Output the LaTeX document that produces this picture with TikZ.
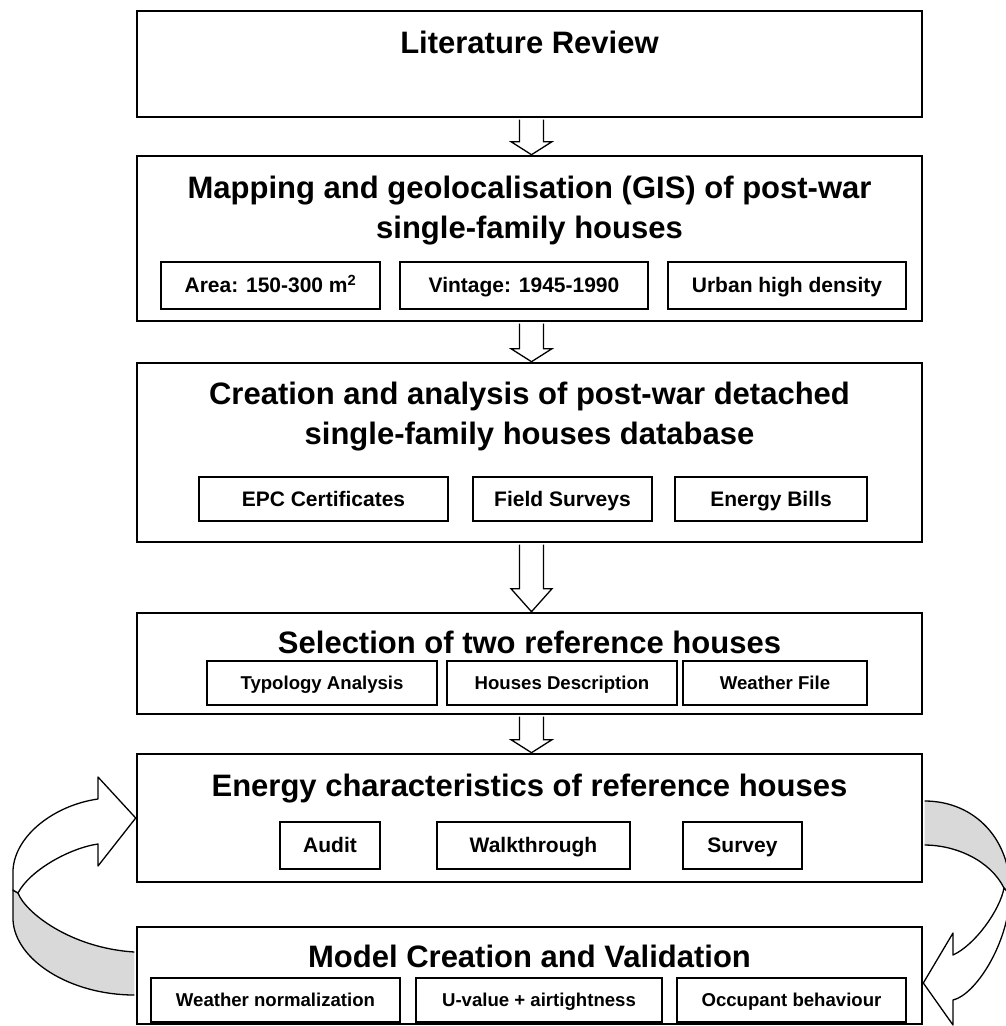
\documentclass[tikz,border=0pt]{standalone}
\usepackage{fontspec}
\setmainfont{Liberation Sans}
\usepackage{tikz}
\usetikzlibrary{positioning,calc}
\tikzstyle{stage} = [rectangle, draw, line width=2.6pt, minimum width=785pt, inner sep=0pt]
\tikzstyle{infobox} = [rectangle, draw, line width=1.8pt, text centered, inner sep=0pt, text height=14.4pt, text depth=0pt, font=\bfseries\fontsize{21}{25}\selectfont]
\tikzstyle{infosm} = [infobox, text height=12.8pt, font=\bfseries\fontsize{18.6}{22}\selectfont]
\tikzstyle{heading} = [inner sep=0pt, text height=21.3pt, text depth=0pt, font=\bfseries\fontsize{31}{40}\selectfont]
\tikzstyle{heading2} = [align=center, inner sep=0pt, font=\bfseries\fontsize{31}{40}\selectfont]
\tikzstyle{blockarrow} = [draw, line width=1.3pt, fill=white, line join=miter]
\tikzstyle{ribbon} = [draw, line width=1.3pt, line join=round]
% hollow arrow from the bottom of one stage to the top of the next
\newcommand{\blockdown}[3]{%
  \draw[blockarrow] ($(#1.south)+(-10,1.3)$) -- ($(#2.north)+(-10,-#3)$) -- ($(#2.north)+(-18.5,-#3)$)
    -- ($(#2.north)+(2,0)$) -- ($(#2.north)+(22.5,-#3)$) -- ($(#2.north)+(14,-#3)$) -- ($(#1.south)+(14,1.3)$);}

\begin{document}
\begin{tikzpicture}[x=1pt, y=-1pt]
    \useasboundingbox (0,0) rectangle (1006,1026);
    % stages
    \node[stage, minimum height=106pt] (lit) at (529.5,64) {};
    \node[heading] (litT) at (529.5,43) {Literature Review};

    \node[stage, minimum height=165pt] (map) at (529.5,238.5) {};
    \node[heading2] (mapT) at (529.5,211) {Mapping and geolocalisation (GIS) of post-war\\single-family houses};
    \node[infobox, minimum width=219pt, minimum height=47pt] (area) at (270.5,285.5) {Area: 150-300 m\textsuperscript{2}};
    \node[infobox, minimum width=248pt, minimum height=47pt] (vint) at (524,285.5) {Vintage: 1945-1990};
    \node[infobox, minimum width=238pt, minimum height=47pt] (urb) at (787,285.5) {Urban high density};

    \node[stage, minimum height=179pt] (cre) at (529.5,452.5) {};
    \node[heading2] (creT) at (529.5,417) {Creation and analysis of post-war detached\\single-family houses database};
    \node[infobox, minimum width=249pt, minimum height=44pt] (epc) at (323.5,499) {EPC Certificates};
    \node[infobox, minimum width=179pt, minimum height=44pt] (field) at (562.5,499) {Field Surveys};
    \node[infobox, minimum width=192pt, minimum height=44pt] (bills) at (771,499) {Energy Bills};

    \node[stage, minimum height=101pt] (sel) at (529.5,663.5) {};
    \node[heading] (selT) at (529.5,643) {Selection of two reference houses};
    \node[infosm, minimum width=230pt, minimum height=44pt] (typo) at (322,683) {Typology Analysis};
    \node[infosm, minimum width=230pt, minimum height=44pt] (desc) at (562,683) {Houses Description};
    \node[infosm, minimum width=184pt, minimum height=44pt] (wfile) at (775,683) {Weather File};

    \node[stage, minimum height=128pt] (ene) at (529.5,818) {};
    \node[heading] (eneT) at (529.5,786) {Energy characteristics of reference houses};
    \node[infobox, minimum width=100pt, minimum height=47pt] (audit) at (330,845.5) {Audit};
    \node[infobox, minimum width=193pt, minimum height=47pt] (walk) at (533.5,845.5) {Walkthrough};
    \node[infobox, minimum width=119pt, minimum height=47pt] (surv) at (742.5,845.5) {Survey};

    \node[stage, minimum height=97pt] (mod) at (529.5,975.5) {};
    \node[heading] (modT) at (529.5,957) {Model Creation and Validation};
    \node[infosm, minimum width=249pt, minimum height=44pt] (wnorm) at (275.5,1000) {Weather normalization};
    \node[infosm, minimum width=246pt, minimum height=44pt] (uval) at (539,1000) {U-value + airtightness};
    \node[infosm, minimum width=229pt, minimum height=44pt] (occ) at (791.5,1000) {Occupant behaviour};

    % flow
    \blockdown{lit}{map}{13}
    \blockdown{map}{cre}{13}
    \blockdown{cre}{sel}{23}
    \blockdown{sel}{ene}{13}

    % loop back, left
    \draw[ribbon, fill=gray!30] ($(mod.west)+(-1.3,-23.5)$) .. controls (70,948) and (25,912) .. (18,893)
        -- (13,890) -- (13,920) .. controls (15,960) and (70,995) .. ($(mod.west)+(-1.3,19.5)$);
    \draw[ribbon, fill=white] (ene.west) -- (98,777) -- (98,799) .. controls (55,805) and (15,835) .. (13,870)
        -- (13,890) -- (18,893) .. controls (30,870) and (70,848) .. (98,844) -- (98,866) -- cycle;
    % loop forward, right
    \begin{scope}
        \clip (0,0) rectangle (1006,1026);
        \draw[ribbon, fill=gray!30] ($(ene.east)+(1.3,-17)$) .. controls (975,801) and (1012,840) .. (1010,895)
            -- (1004,888) .. controls (990,860) and (955,845) .. ($(ene.east)+(1.3,27)$);
        \draw[ribbon, fill=white] (1004,888) .. controls (1000,910) and (975,945) .. (953,955) -- (953,933)
            -- ($(mod.east)+(0,7.5)$) -- (953,1025) -- (953,1000) .. controls (975,995) and (1008,945) .. (1010,895) -- cycle;
    \end{scope}
\end{tikzpicture}
\end{document}
